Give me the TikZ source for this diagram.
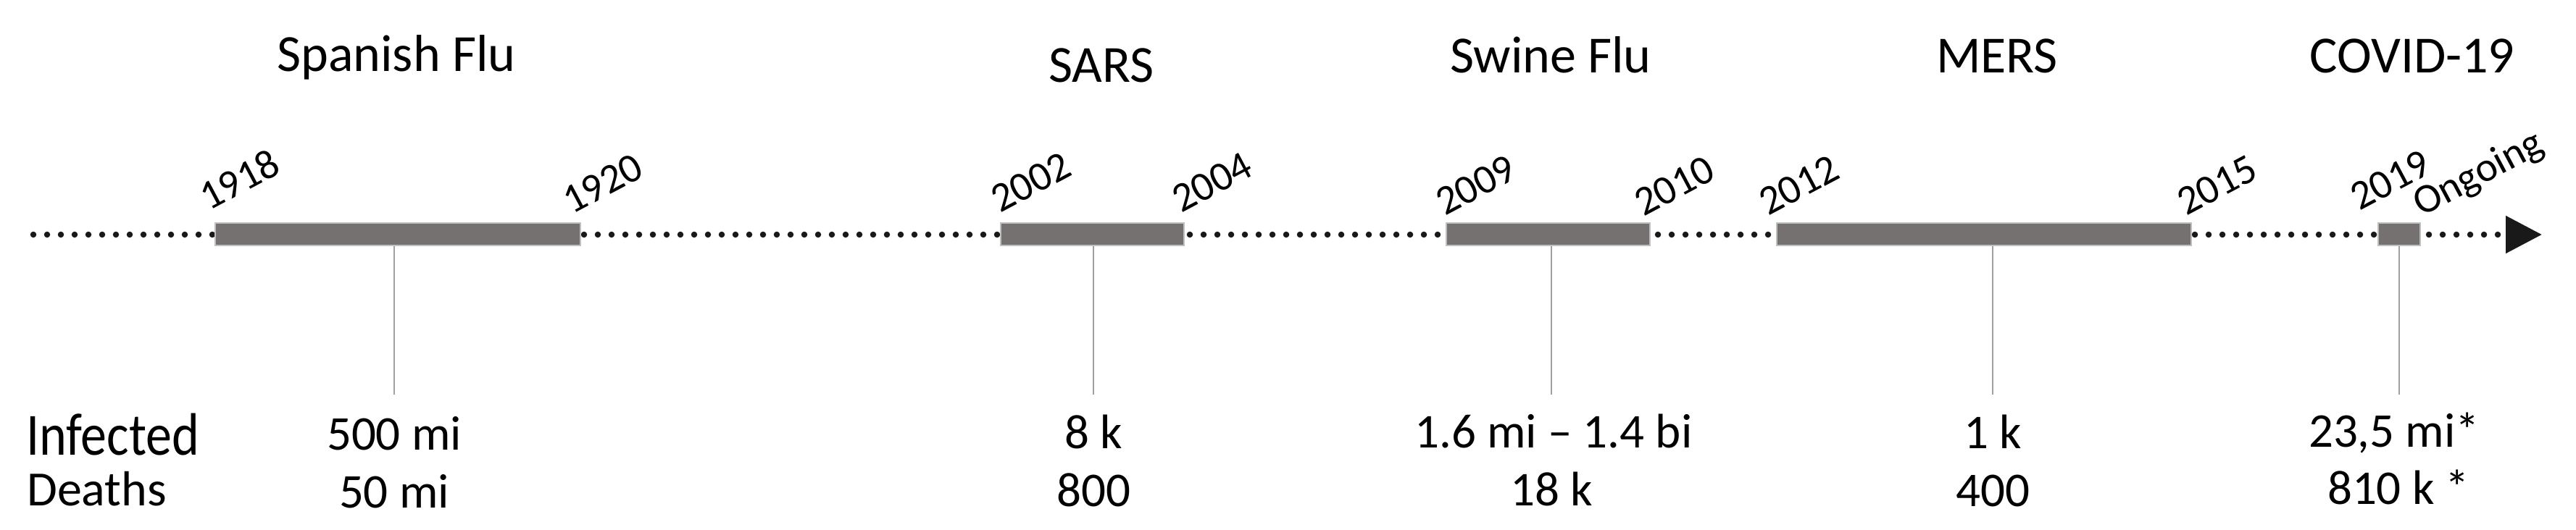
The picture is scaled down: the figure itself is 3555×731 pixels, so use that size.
\documentclass[tikz,border=0pt]{standalone}
\usepackage{fontspec}
\setmainfont{Carlito}
\usetikzlibrary{arrows.meta}
\definecolor{barfill}{HTML}{767171}
\definecolor{baredge}{HTML}{BFBFBF}
\definecolor{conn}{HTML}{A0A0A0}
\tikzset{
  axisline/.style={line width=8.5pt, line cap=round, dash pattern=on 0pt off 19pt, black!90,
    -{Triangle[length=50pt,width=50pt]}},
  barbox/.style={rectangle, fill=barfill, draw=baredge, line width=1.5pt, inner sep=0pt, minimum height=31pt},
  connline/.style={draw=conn, line width=2.5pt},
  title/.style={font=\fontsize{72}{86}\selectfont, anchor=base, inner sep=0pt},
  yearlbl/.style={font=\fontsize{57}{68}\selectfont, anchor=base west, rotate=28, inner sep=0pt},
  valtxt/.style={font=\fontsize{67}{80}\selectfont, anchor=base, inner sep=0pt},
  rowlbl/.style={anchor=base west, inner sep=0pt}
}
\begin{document}
\begin{tikzpicture}[x=1pt, y=-1pt]
\useasboundingbox (0,0) rectangle (3555,731);
% axis
\coordinate (axs) at (46,324);
\coordinate (axe) at (3508,324);
\draw[axisline] (axs) -- (axe);
% bars
\node[barbox, minimum width=504pt] (b1) at (549,323.5) {};
\node[barbox, minimum width=253pt] (b2) at (1507.5,323.5) {};
\node[barbox, minimum width=281pt] (b3) at (2136.5,323.5) {};
\node[barbox, minimum width=572pt] (b4) at (2738,323.5) {};
\node[barbox, minimum width=58pt] (b5) at (3311,323.5) {};
% connectors
\coordinate (c1) at (544,545);
\coordinate (c2) at (1509,545);
\coordinate (c3) at (2141,545);
\coordinate (c4) at (2750,545);
\coordinate (c5) at (3311,545);
\draw[connline] (c1 |- b1.south) -- (c1);
\draw[connline] (c2 |- b2.south) -- (c2);
\draw[connline] (c3 |- b3.south) -- (c3);
\draw[connline] (c4 |- b4.south) -- (c4);
\draw[connline] (c5 |- b5.south) -- (c5);
% titles
\node[title] (t1) at (547,98) {Spanish Flu};
\node[title] (t2) at (1520,113) {SARS};
\node[title] (t3) at (2140,100) {Swine Flu};
\node[title] (t4) at (2756,100) {MERS};
\node[title] (t5) at (3329,100) {COVID-19};
% years
\node[yearlbl] (y1) at (288,292) {1918};
\node[yearlbl] (y2) at (789,297) {1920};
\node[yearlbl] (y3) at (1380,295) {2002};
\node[yearlbl] (y4) at (1630,295) {2004};
\node[yearlbl] (y5) at (1994,299) {2009};
\node[yearlbl] (y6) at (2268,300) {2010};
\node[yearlbl] (y7) at (2440,299) {2012};
\node[yearlbl] (y8) at (3017,299) {2015};
\node[yearlbl] (y9) at (3256,292) {2019};
\node[yearlbl] (y10) at (3342,300) {Ongoing};
% row labels
\node[rowlbl, font=\fontsize{72}{86}\selectfont] (inf) at (36,628) {\scalebox{1}[1.15]{Infected}};
\node[rowlbl, font=\fontsize{68}{80}\selectfont] (dea) at (37,698) {Deaths};
% values
\node[valtxt] (i1) at (544,621) {500 mi};
\node[valtxt] (d1) at (544,701) {50 mi};
\node[valtxt] (i2) at (1509,619) {8 k};
\node[valtxt] (d2) at (1509,699) {800};
\node[valtxt] (i3) at (2144,618) {1.6 mi – 1.4 bi};
\node[valtxt] (d3) at (2141,698) {18 k};
\node[valtxt] (i4) at (2750,619) {1 k};
\node[valtxt] (d4) at (2750,699) {400};
\node[valtxt] (i5) at (3304,617) {23,5 mi*};
\node[valtxt] (d5) at (3310,696) {810 k *};
\end{tikzpicture}
\end{document}
